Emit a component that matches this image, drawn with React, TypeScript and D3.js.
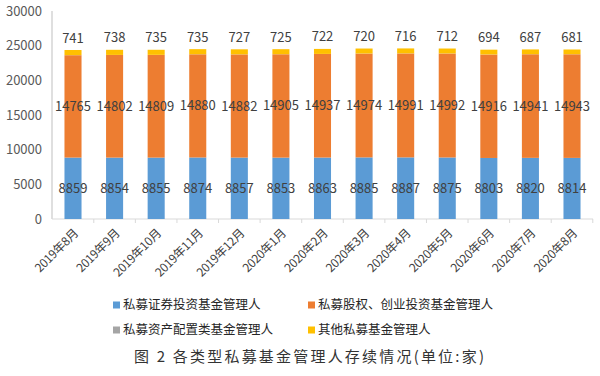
import React from "react";
import * as d3 from "d3";

const months = ["2019年8月","2019年9月","2019年10月","2019年11月","2019年12月","2020年1月","2020年2月","2020年3月","2020年4月","2020年5月","2020年6月","2020年7月","2020年8月"];
const securities = [8859,8854,8855,8874,8857,8853,8863,8885,8887,8875,8803,8820,8814];
const equity = [14765,14802,14809,14880,14882,14905,14937,14974,14991,14992,14916,14941,14943];
const assetAlloc = [9,9,9,9,9,9,9,9,9,9,9,9,9];
const others = [741,738,735,735,727,725,722,720,716,712,694,687,681];
const yTicks = [0,5000,10000,15000,20000,25000,30000];

const seriesNames = ["私募证券投资基金管理人","私募股权、创业投资基金管理人","私募资产配置类基金管理人","其他私募基金管理人"];
const colors = ["#5B9BD5","#ED7D31","#A5A5A5","#FFC000"];
const title = "图 2 各类型私募基金管理人存续情况(单位:家)";

export default function App() {
  const W = 600, H = 376;
  const top = 11, bottom = 219, left = 52, right = 593;
  const y = d3.scaleLinear().domain([0, 30000]).range([bottom, top]);
  const x = d3.scaleBand<string>().domain(months).range([left, right]).paddingInner(0.59).paddingOuter(0.3);
  const rows = months.map((m, i) => ({ m, s: securities[i], e: equity[i], a: assetAlloc[i], o: others[i] }));
  const stack = d3.stack<any>().keys(["s", "e", "a", "o"])(rows);
  const font = "'Microsoft YaHei','Noto Sans CJK SC','Noto Sans',sans-serif";
  const bw = x.bandwidth();
  const step = x.step();
  const boundaries = months.map((m) => (x(m) as number) + bw + (step - bw) / 2);
  return (
    <svg width={W} height={H} style={{ position: "absolute", left: 0, top: 0, background: "#fff" }} fontFamily={font}>
      {yTicks.map(t => (
        <text key={t} x={42} y={y(t)} dy="0.35em" textAnchor="end" fontSize={13} fill="#595959">{t}</text>
      ))}
      <line x1={left} x2={left} y1={top} y2={bottom} stroke="#BFBFBF" />
      <line x1={left} x2={right} y1={bottom} y2={bottom} stroke="#D9D9D9" />
      {boundaries.map((b, i) => (
        <line key={i} x1={b} x2={b} y1={bottom} y2={bottom + 4} stroke="#D9D9D9" />
      ))}
      {stack.map((layer, si) => (
        <g key={si} fill={colors[si]}>
          {layer.map((d, i) => (
            <rect key={i} x={x(months[i])} width={bw} y={y(d[1])} height={Math.max(0, y(d[0]) - y(d[1]))} />
          ))}
        </g>
      ))}
      {stack.map((layer, si) => si === 2 ? null : (
        <g key={"l" + si}>
          {layer.map((d, i) => {
            const cx = (x(months[i]) as number) + bw / 2;
            const v = d[1] - d[0];
            const ly = si === 3 ? y(d[1]) - 12 : (y(d[0]) + y(d[1])) / 2;
            return <text key={i} x={cx} y={ly} dy="0.35em" textAnchor="middle" fontSize={13} fill="#404040">{v}</text>;
          })}
        </g>
      ))}
      {months.map(m => {
        const cx = (x(m) as number) + bw / 2 + 3;
        return (
          <text key={m} transform={`translate(${cx},${bottom + 12}) rotate(-45)`} textAnchor="end" dy="0.35em" fontSize={12} letterSpacing={-0.3} fill="#404040">{m}</text>
        );
      })}
      {seriesNames.map((n, i) => {
        const lx = i % 2 === 0 ? 113 : 308;
        const ly = i < 2 ? 305 : 330;
        return (
          <g key={n}>
            <rect x={lx} y={ly - 3.5} width={7} height={7} fill={colors[i]} />
            <text x={lx + 10} y={ly} dy="0.35em" fontSize={12.5} fill="#262626">{n}</text>
          </g>
        );
      })}
      <text x={134} y={357} dy="0.35em" fontSize={15} fill="#333" letterSpacing={2.2}>{title}</text>
    </svg>
  );
}
